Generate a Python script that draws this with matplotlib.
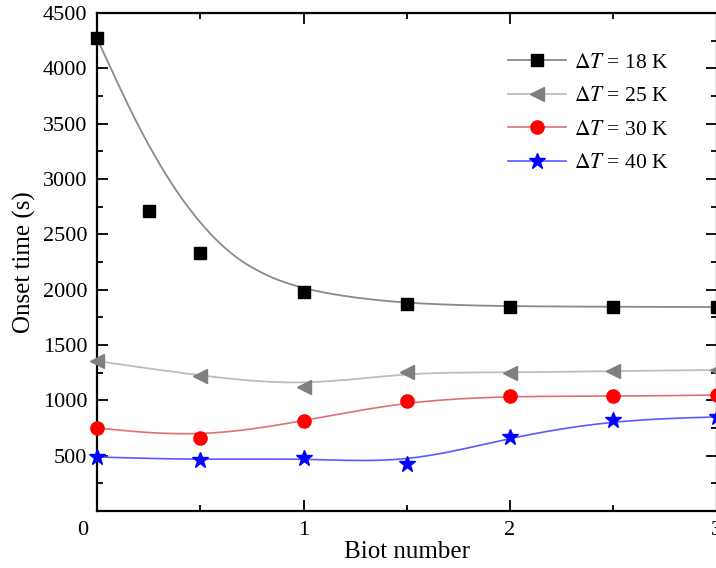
import numpy as np
import matplotlib
matplotlib.use("Agg")
import matplotlib.pyplot as plt
import matplotlib.transforms as mtransforms
from matplotlib.lines import Line2D

# ------------------------------------------------------------
# Data
# ------------------------------------------------------------
biot_18 = [0.0, 0.25, 0.5, 1.0, 1.5, 2.0, 2.5, 3.0]
onset_18 = [4274, 2713, 2334, 1982, 1866, 1843, 1843, 1843]
# fitted decay curve drawn for dT = 18 K
fit_x_18 = [0.0, 0.13, 0.21, 0.29, 0.37, 0.45, 0.53, 0.61, 0.69, 0.77,
            0.87, 1.0, 1.13, 1.3, 1.5, 1.75, 2.0, 2.5, 3.0]
fit_y_18 = [4270, 3744, 3443, 3172, 2930, 2720, 2539, 2388, 2268, 2178,
            2087, 2012, 1961, 1915, 1880, 1860, 1850, 1845, 1843]

biot = [0.0, 0.5, 1.0, 1.5, 2.0, 2.5, 3.0]
onset_25 = [1355, 1220, 1125, 1256, 1250, 1265, 1274]
onset_30 = [750, 660, 813, 994, 1039, 1036, 1048]
onset_40 = [488, 461, 479, 425, 669, 822, 850]

labels = [r"$\Delta T$ = 18 K", r"$\Delta T$ = 25 K",
          r"$\Delta T$ = 30 K", r"$\Delta T$ = 40 K"]


def bspline(xs, ys, n=40):
    # uniform cubic B-spline, ends clamped (like Origin's B-spline connect)
    P = np.column_stack([xs, ys]).astype(float)
    P = np.vstack([P[0], P[0], P, P[-1], P[-1]])
    t = np.linspace(0, 1, n)[:, None]
    b0 = (1 - t) ** 3 / 6
    b1 = (3 * t ** 3 - 6 * t ** 2 + 4) / 6
    b2 = (-3 * t ** 3 + 3 * t ** 2 + 3 * t + 1) / 6
    b3 = t ** 3 / 6
    segs = []
    for i in range(len(P) - 3):
        p0, p1, p2, p3 = P[i:i + 4]
        segs.append(b0 * p0 + b1 * p1 + b2 * p2 + b3 * p3)
    curve = np.vstack(segs)
    return curve[:, 0], curve[:, 1]


plt.rcParams["font.family"] = ["Liberation Serif", "DejaVu Serif"]
plt.rcParams["mathtext.fontset"] = "stix"

fig = plt.figure(figsize=(7.16, 5.68), dpi=100)
ax = fig.add_axes([97 / 716, 1 - 511 / 568, (716.5 - 97) / 716, (511 - 13) / 568])

# curves
cx, cy = bspline(fit_x_18, fit_y_18)
ax.plot(cx, cy, color="#8a8a8a", lw=1.3, zorder=2)
cx, cy = bspline(biot, onset_25)
ax.plot(cx, cy, color="#bdbdbd", lw=1.3, zorder=2)
cx, cy = bspline(biot, onset_30)
ax.plot(cx, cy, color="#e07070", lw=1.2, zorder=2)
cx, cy = bspline(biot, onset_40)
ax.plot(cx, cy, color="#5a5aff", lw=1.2, zorder=2)

# markers
ax.plot(biot_18, onset_18, "s", color="black", ms=8.5, ls="none", zorder=3, clip_on=False)
ax.plot(biot, onset_25, "<", color="#7f7f7f", ms=10, ls="none", zorder=3, clip_on=False)
ax.plot(biot, onset_30, "o", color="#ff0000", ms=9.5, ls="none", zorder=3, clip_on=False)
ax.plot(biot, onset_40, "*", color="#0000ff", ms=12, ls="none", zorder=3, clip_on=False)

ax.set_xlim(0, 3)
ax.set_ylim(0, 4500)
ax.set_xticks([0, 1, 2, 3])
ax.set_xticks([0.5, 1.5, 2.5], minor=True)
ax.set_yticks(np.arange(0, 4501, 500))
ax.set_yticks(np.arange(250, 4500, 500), minor=True)
ax.set_yticklabels([""] + [str(v) for v in range(500, 4501, 500)])

ax.tick_params(which="both", direction="in", top=True, right=True, width=1.3)
ax.tick_params(which="major", length=8, labelsize=16, pad=7)
ax.tick_params(which="minor", length=4.5)
for s in ax.spines.values():
    s.set_linewidth(1.6)

# Origin puts the shared "0" left of the origin
offset = mtransforms.ScaledTranslation(-0.14, 0, fig.dpi_scale_trans)
lab0 = ax.get_xticklabels()[0]
lab0.set_transform(lab0.get_transform() + offset)

ax.set_xlabel("Biot number", fontsize=18, labelpad=1)
ax.set_ylabel("Onset time (s)", fontsize=18, labelpad=5)

handles = [
    Line2D([], [], color="#8a8a8a", lw=1.3, marker="s", mfc="black", mec="black", ms=8.5),
    Line2D([], [], color="#bdbdbd", lw=1.3, marker="<", mfc="#7f7f7f", mec="#7f7f7f", ms=10),
    Line2D([], [], color="#e07070", lw=1.2, marker="o", mfc="#ff0000", mec="#ff0000", ms=9.5),
    Line2D([], [], color="#5a5aff", lw=1.2, marker="*", mfc="#0000ff", mec="#0000ff", ms=12),
]
ax.legend(handles, labels, loc="upper left", frameon=False, fontsize=15.5,
          bbox_to_anchor=(497 / 716, 1 - 42 / 568), bbox_transform=fig.transFigure,
          borderpad=0, handlelength=2.7, handletextpad=0.4, labelspacing=0.62)

fig.savefig("out.png", dpi=100)
